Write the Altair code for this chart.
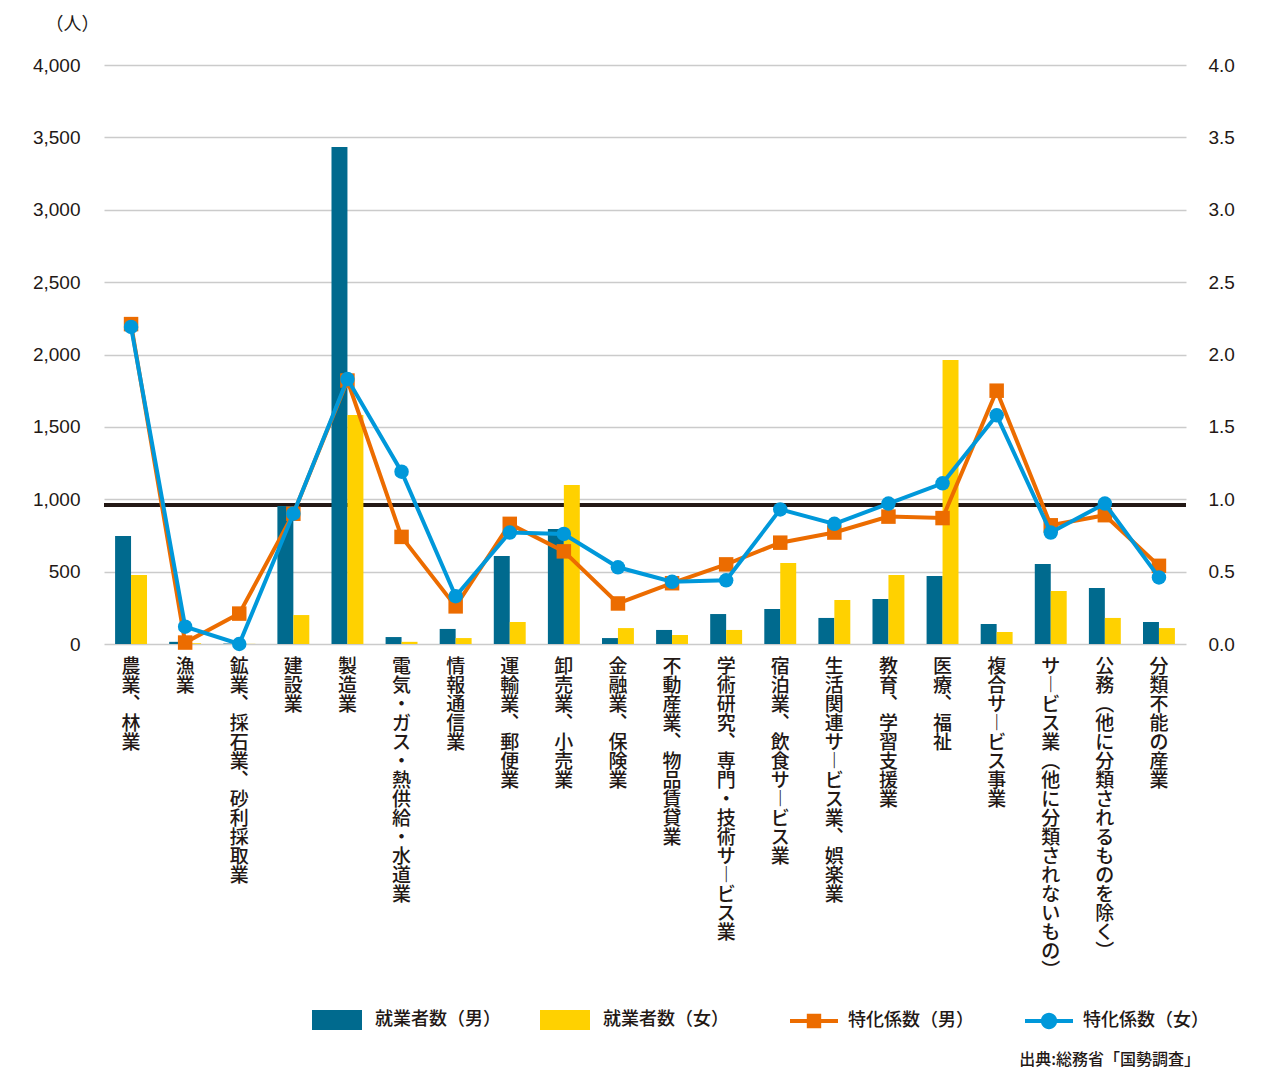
import altair as alt
import pandas as pd

categories = [
    "農業、林業", "漁業", "鉱業、採石業、砂利採取業", "建設業", "製造業",
    "電気・ガス・熱供給・水道業", "情報通信業", "運輸業、郵便業", "卸売業、小売業",
    "金融業、保険業", "不動産業、物品賃貸業", "学術研究、専門・技術サービス業",
    "宿泊業、飲食サービス業", "生活関連サービス業、娯楽業", "教育、学習支援業",
    "医療、福祉", "複合サービス事業", "サービス業（他に分類されないもの）",
    "公務（他に分類されるものを除く）", "分類不能の産業",
]
workers_male = [746, 15, 3, 953, 3433, 48, 104, 608, 794, 41, 97, 207, 242, 180, 311, 470, 138, 553, 387, 152]
workers_female = [477, 5, 1, 200, 1582, 15, 41, 152, 1098, 110, 62, 97, 560, 304, 477, 1962, 83, 366, 180, 110]
coef_male = [2.21, 0.01, 0.21, 0.90, 1.82, 0.74, 0.26, 0.83, 0.64, 0.28, 0.42, 0.55, 0.70, 0.77, 0.88, 0.87, 1.75, 0.82, 0.89, 0.54]
coef_female = [2.19, 0.12, 0.00, 0.90, 1.83, 1.19, 0.33, 0.77, 0.76, 0.53, 0.43, 0.44, 0.93, 0.83, 0.97, 1.11, 1.58, 0.77, 0.97, 0.46]
bar_series = ["就業者数（男）", "就業者数（女）"]
line_series = ["特化係数（男）", "特化係数（女）"]
reference_value = 0.96
left_ticks = [0, 500, 1000, 1500, 2000, 2500, 3000, 3500, 4000]
right_ticks = [0.0, 0.5, 1.0, 1.5, 2.0, 2.5, 3.0, 3.5, 4.0]
source_text = "出典:総務省「国勢調査」"
unit_text = "（人）"

TEAL = "#006A8E"
YELLOW = "#FFD100"
ORANGE = "#EC6C00"
BLUE = "#0098DA"
INK = "#231815"
JP = "Noto Sans CJK JP"
NUM = "Liberation Sans"

# vertical presentation forms for tategaki labels
vmap = str.maketrans({"、": "︑", "ー": "︱", "（": "︵", "）": "︶"})
vcats = [c.translate(vmap) for c in categories]

bars_df = pd.DataFrame({
    "cat": vcats * 2,
    "series": [bar_series[0]] * 20 + [bar_series[1]] * 20,
    "value": workers_male + workers_female,
})
lines_df = pd.DataFrame({
    "cat": vcats * 2,
    "series2": [line_series[0]] * 20 + [line_series[1]] * 20,
    "coef": coef_male + coef_female,
})

xscale = alt.Scale(domain=vcats, paddingInner=0.41, paddingOuter=0.205)
x_enc = alt.X("cat:N", scale=xscale, sort=vcats, title=None,
              axis=alt.Axis(labelExpr="split(datum.label, '')", labelAngle=0,
                            labelAlign="center", labelBaseline="top",
                            labelFont=JP, labelFontSize=19, labelLineHeight=19,
                            labelColor=INK, labelPadding=13, labelLimit=0,
                            labelOverlap=False, domain=False, ticks=False,
                            grid=False, labelFontWeight=500))
cscale = alt.Scale(domain=[0, 4])
yscale_l = alt.Scale(domain=[0, 4000])

rule = alt.Chart(pd.DataFrame({"v": [reference_value]})).mark_rule(
    color=INK, strokeWidth=4).encode(
    y=alt.Y("v:Q", scale=cscale, axis=None))

bars = alt.Chart(bars_df).mark_bar().encode(
    x=x_enc,
    xOffset=alt.XOffset("series:N", scale=alt.Scale(domain=bar_series)),
    y=alt.Y("value:Q", scale=yscale_l, title=unit_text,
            axis=alt.Axis(values=left_ticks, format=",d", grid=True,
                          gridColor="#cbcbcb", gridWidth=1.5, domain=False,
                          ticks=False, labelFont=NUM, labelFontSize=19,
                          labelColor=INK, labelPadding=24,
                          titleAngle=0, titleX=-5, titleY=-41,
                          titleAlign="right", titleBaseline="middle",
                          titleFont=JP, titleFontSize=18, titleFontWeight="normal",
                          titleColor=INK)),
    fill=alt.Fill("series:N", scale=alt.Scale(domain=bar_series, range=[TEAL, YELLOW]),
                  legend=alt.Legend(orient="none", direction="horizontal",
                                    legendX=208, legendY=930, title=None,
                                    symbolType="M-1,-0.4H1V0.4H-1Z", symbolSize=2500,
                                    symbolStrokeWidth=0, labelFont=JP, labelFontSize=18,
                                    labelColor=INK, labelOffset=13, columnPadding=39,
                                    labelFontWeight=500, labelLimit=0)),
)

male_df = lines_df[lines_df.series2 == line_series[0]]
female_df = lines_df[lines_df.series2 == line_series[1]]

# legend glyphs: line segment with its marker (units of half the symbol width)
sym_m = "M-1,-0.085H1V0.085H-1Z M-0.3,-0.3H0.3V0.3H-0.3Z"
sym_f = "M-1,-0.085H1V0.085H-1Z M-0.34,0A0.34,0.34 0 1,1 0.34,0A0.34,0.34 0 1,1 -0.34,0Z"

def make_line_legend():
    return alt.Legend(orient="none", direction="horizontal", legendX=686, legendY=932,
                      title=None, symbolSize=2304, symbolStrokeWidth=0,
                      labelFont=JP, labelFontSize=18, labelColor=INK, labelOffset=10,
                      columnPadding=51, labelFontWeight=500, labelLimit=0)

def line_layer(df, color):
    return alt.Chart(df).mark_line(color=color, strokeWidth=4).encode(
        x=x_enc, y=alt.Y("coef:Q", scale=cscale, axis=None))

def point_layer(df, color, shape, right_axis):
    yax = alt.Axis(values=right_ticks, format=".1f", orient="right", grid=False,
                   domain=False, ticks=False, labelFont=NUM, labelFontSize=19,
                   labelColor=INK, labelPadding=22, title=None) if right_axis else None
    return alt.Chart(df).mark_point(filled=True, size=210, opacity=1, shape=shape,
                                    color=color).encode(
        x=x_enc,
        y=alt.Y("coef:Q", scale=cscale, axis=yax),
    )

# legend-only layer: no rows, the legend is built from the explicit scale domains
legend_layer = alt.Chart(lines_df.iloc[0:0]).mark_point(filled=True, opacity=1).encode(
    x=x_enc,
    y=alt.Y("coef:Q", scale=cscale, axis=None),
    color=alt.Color("series2:N", scale=alt.Scale(domain=line_series, range=[ORANGE, BLUE]),
                    legend=make_line_legend()),
    shape=alt.Shape("series2:N", scale=alt.Scale(domain=line_series, range=[sym_m, sym_f]),
                    legend=make_line_legend()),
)

src = alt.Chart(pd.DataFrame({"t": [source_text]})).mark_text(
    align="right", baseline="middle", font=JP, fontSize=16, fontWeight=500, color=INK
).encode(text="t:N", x=alt.value(1096), y=alt.value(995))

chart = alt.layer(
    rule, bars,
    line_layer(male_df, ORANGE), point_layer(male_df, ORANGE, "square", True),
    line_layer(female_df, BLUE), point_layer(female_df, BLUE, "circle", False),
    legend_layer, src,
).resolve_scale(y="independent").properties(
    width=1082, height=579,
    autosize=alt.AutoSizeParams(type="none"),
    padding={"left": 96, "top": 57, "right": 60, "bottom": 427},
    background="white",
).configure_view(stroke=None)

chart.save("out.html", embed_options={"renderer": "svg", "actions": False})
